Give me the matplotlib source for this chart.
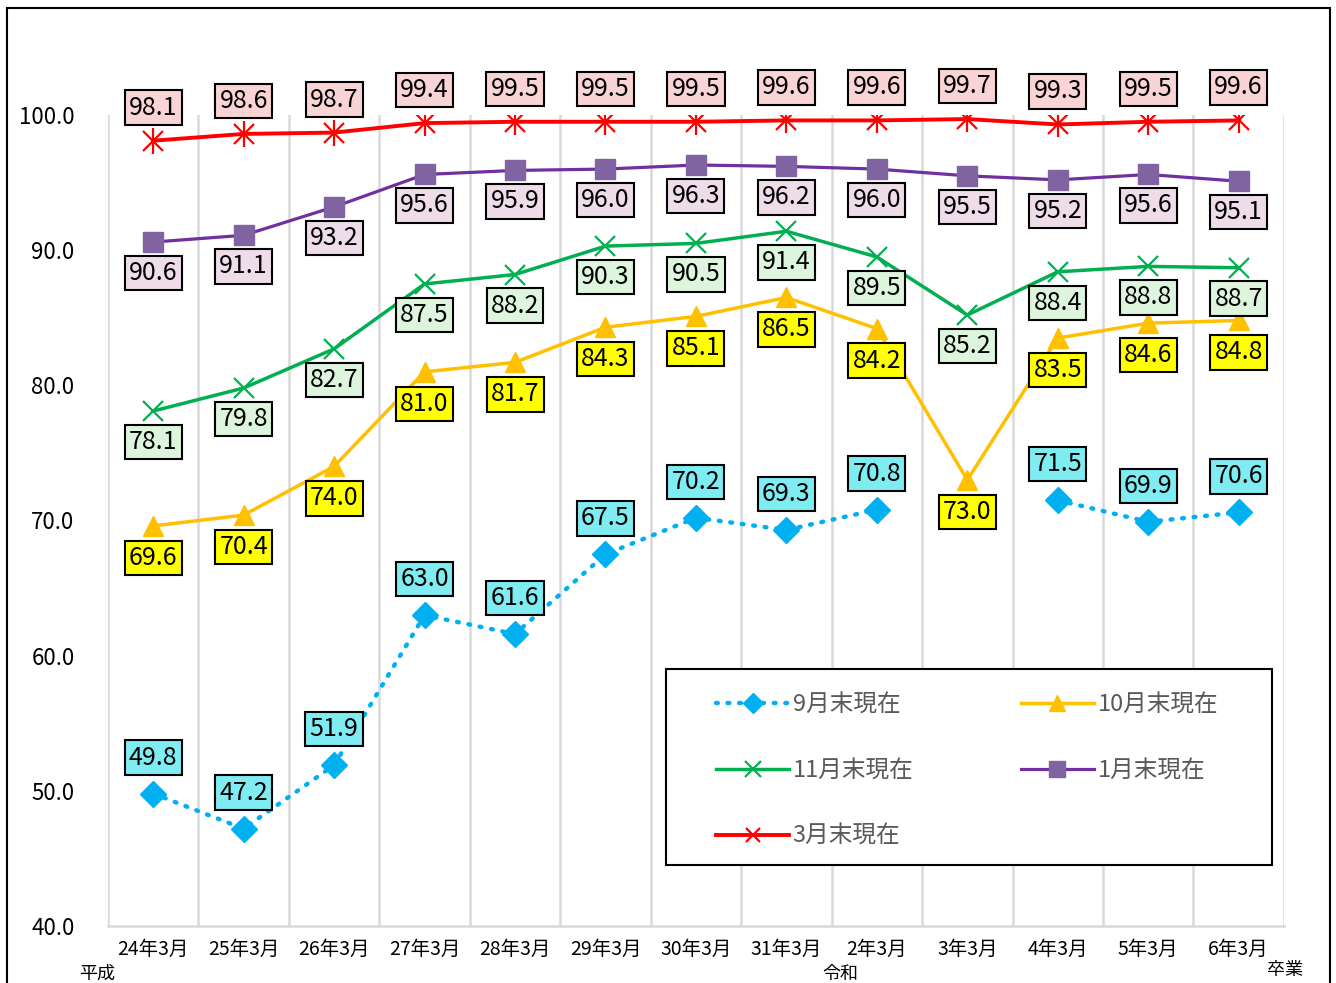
import numpy as np
import matplotlib
matplotlib.use("Agg")
import matplotlib.pyplot as plt
from matplotlib.patches import Rectangle

plt.rcParams['font.family'] = ['Noto Sans CJK JP', 'DejaVu Sans']

# categories (graduation year, March)
years = ["24年3月", "25年3月", "26年3月", "27年3月", "28年3月", "29年3月", "30年3月",
         "31年3月", "2年3月", "3年3月", "4年3月", "5年3月", "6年3月"]

sep = [49.8, 47.2, 51.9, 63.0, 61.6, 67.5, 70.2, 69.3, 70.8, np.nan, 71.5, 69.9, 70.6]
octo = [69.6, 70.4, 74.0, 81.0, 81.7, 84.3, 85.1, 86.5, 84.2, 73.0, 83.5, 84.6, 84.8]
nov = [78.1, 79.8, 82.7, 87.5, 88.2, 90.3, 90.5, 91.4, 89.5, 85.2, 88.4, 88.8, 88.7]
jan = [90.6, 91.1, 93.2, 95.6, 95.9, 96.0, 96.3, 96.2, 96.0, 95.5, 95.2, 95.6, 95.1]
mar = [98.1, 98.6, 98.7, 99.4, 99.5, 99.5, 99.5, 99.6, 99.6, 99.7, 99.3, 99.5, 99.6]

names = ["9月末現在", "10月末現在", "11月末現在", "1月末現在", "3月末現在"]
yticks = [40, 50, 60, 70, 80, 90, 100]

x = np.arange(len(years))

fig = plt.figure(figsize=(13.36, 9.83), dpi=100)
ax = fig.add_axes([0.0808, 0.058, 0.8802, 0.825])

# vertical grid at category boundaries
for b in np.arange(-0.5, len(years), 1.0):
    ax.axvline(b, color="#D9D9D9", lw=1.8, zorder=0)

h_sep, = ax.plot(x, sep, color="#00B0F0", ls=(0, (0.4, 2.2)), lw=3.2, dash_capstyle="round",
                 marker="D", ms=13, mec="#00B0F0", mfc="#00B0F0", zorder=3)
h_oct, = ax.plot(x, octo, color="#FFC000", lw=2.5, marker="^", ms=15,
                 mec="#FFC000", mfc="#FFC000", zorder=3)
h_nov, = ax.plot(x, nov, color="#00B050", lw=2.5, marker="x", ms=15, mew=1.6,
                 mec="#00B050", zorder=3)
h_jan, = ax.plot(x, jan, color="#7030A0", lw=2.3, marker="s", ms=15,
                 mec="#8064A2", mfc="#8064A2", zorder=3)
h_mar, = ax.plot(x, mar, color="#FF0000", lw=2.8, marker="x", ms=14, mew=1.6,
                 mec="#FF0000", zorder=3)
ax.plot(x, mar, ls="none", marker="|", ms=19, mew=1.6, mec="#FF0000", zorder=3)

# data labels: (values, offset in px, box colour)
label_sets = [
    (sep, 36, "#7FECF2"),
    (octo, -32, "#FFFF00"),
    (nov, -31, "#DDF5DC"),
    (jan, -31, "#EEDDE9"),
    (mar, 33, "#F9D4D4"),
]
for vals, off, fc in label_sets:
    for xi, v in zip(x, vals):
        if np.isnan(v):
            continue
        ax.annotate(f"{v:.1f}", (xi, v), xytext=(0, off * 0.72), textcoords="offset points",
                    ha="center", va="center", fontsize=18, color="black", zorder=5,
                    annotation_clip=False,
                    bbox=dict(boxstyle="square,pad=0.17", fc=fc, ec="black", lw=1.5))

ax.set_xlim(-0.5, len(years) - 0.5)
ax.set_ylim(40, 100)
ax.set_yticks(yticks)
ax.set_yticklabels([f"{t:.1f}" for t in yticks], fontsize=16)
ax.set_xticks(x)
ax.set_xticklabels(years, fontsize=14)
ax.tick_params(axis="both", length=0)
ax.tick_params(axis="y", pad=24)
ax.tick_params(axis="x", pad=9)
for s in ["left", "right", "top"]:
    ax.spines[s].set_visible(False)
ax.spines["bottom"].set_color("#D9D9D9")
ax.spines["bottom"].set_linewidth(1.8)

# era notes under the axis
fig.text(97 / 1336, 1 - 974 / 983, "平成", ha="center", va="center", fontsize=13)
fig.text(840 / 1336, 1 - 974 / 983, "令和", ha="center", va="center", fontsize=13)
fig.text(1285 / 1336, 1 - 970 / 983, "卒業", ha="center", va="center", fontsize=13)

# legend: box drawn separately, entries placed inside it
ax.add_patch(Rectangle((0.4745, 0.0752), 0.515, 0.2417, transform=ax.transAxes,
                       fc="white", ec="black", lw=1.5, zorder=6, clip_on=False))
leg = ax.legend([h_sep, h_nov, h_mar, h_oct, h_jan],
                [names[0], names[2], names[4], names[1], names[3]],
                ncol=2, loc="upper left", bbox_to_anchor=(0.517, 0.287),
                borderaxespad=0, borderpad=0, fontsize=17, handlelength=3.1,
                labelspacing=1.82, handletextpad=0.15, columnspacing=4.55,
                markerscale=0.75, frameon=False, labelcolor="#595959")
leg.set_zorder(7)

# outer chart border
fig.patches.append(Rectangle((7 / 1336, -0.05), 1323 / 1336, 1.05 - 8 / 983,
                             transform=fig.transFigure, fill=False, ec="black", lw=1.5))

fig.savefig("out.png", dpi=100)
